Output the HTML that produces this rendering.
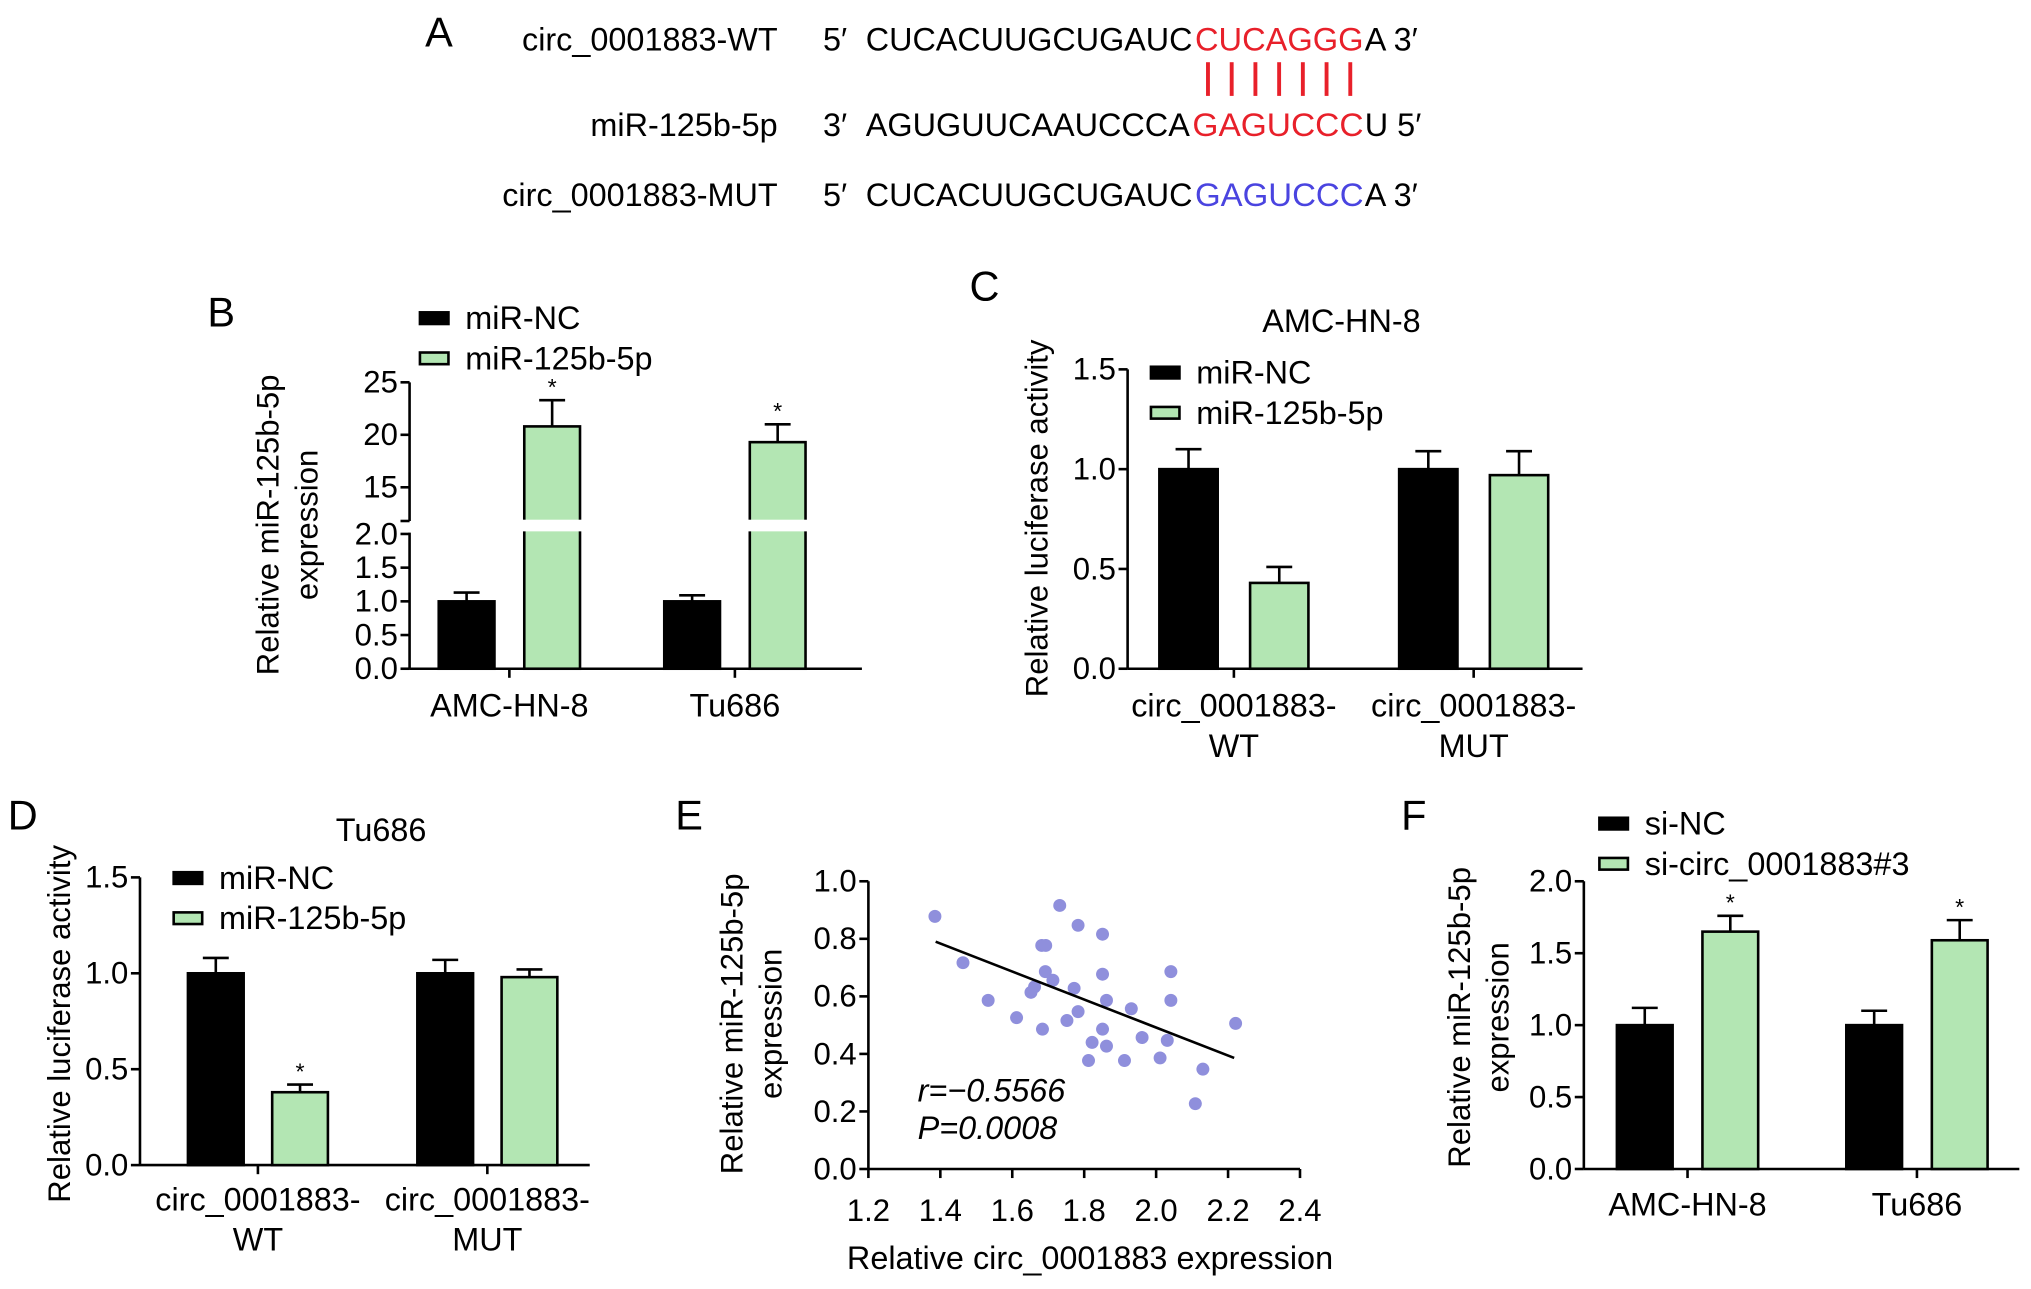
<!DOCTYPE html>
<html><head><meta charset="utf-8"><style>
html,body{margin:0;padding:0;background:#fff;}
svg{display:block;font-family:"Liberation Sans",Arial,sans-serif;}
</style></head><body>
<svg id="fig" width="2031" height="1289" viewBox="0 0 1567 994.6" preserveAspectRatio="none" xmlns="http://www.w3.org/2000/svg">
<g font-size="25">
<text x="328" y="36" font-size="32">A</text>
<text x="600" y="39" text-anchor="end">circ_0001883-WT</text>
<text x="600" y="105" text-anchor="end">miR-125b-5p</text>
<text x="600" y="159" text-anchor="end">circ_0001883-MUT</text>
<text y="39"><tspan x="635">5′</tspan><tspan x="668" textLength="252" lengthAdjust="spacingAndGlyphs">CUCACUUGCUGAUC</tspan><tspan x="922" fill="#e8202a" textLength="130" lengthAdjust="spacingAndGlyphs">CUCAGGG</tspan><tspan x="1053">A 3′</tspan></text>
<text y="105"><tspan x="635">3′</tspan><tspan x="668" textLength="250" lengthAdjust="spacingAndGlyphs">AGUGUUCAAUCCCA</tspan><tspan x="920" fill="#e8202a" textLength="132" lengthAdjust="spacingAndGlyphs">GAGUCCC</tspan><tspan x="1053">U 5′</tspan></text>
<text y="159"><tspan x="635">5′</tspan><tspan x="668" textLength="252" lengthAdjust="spacingAndGlyphs">CUCACUUGCUGAUC</tspan><tspan x="922" fill="#4a44e0" textLength="130" lengthAdjust="spacingAndGlyphs">GAGUCCC</tspan><tspan x="1053">A 3′</tspan></text>
<g id="pairs" stroke="#e8202a" stroke-width="3"></g>
</g>
<g id="plots"></g>
</svg>
<script>
// ---- Panel B data ----
const bCategories = ["AMC-HN-8", "Tu686"];
const bNC = [1.0, 1.0];
const bNCErr = [0.13, 0.09];
const bMiR = [20.8, 19.3];
const bMiRErr = [2.5, 1.7];
const bStars = [false, false, true, true];
// ---- Panel C data ----
const cCategories = ["circ_0001883-|WT", "circ_0001883-|MUT"];
const cNC = [1.0, 1.0];
const cNCErr = [0.1, 0.09];
const cMiR = [0.43, 0.97];
const cMiRErr = [0.08, 0.12];
// ---- Panel D data ----
const dCategories = ["circ_0001883-|WT", "circ_0001883-|MUT"];
const dNC = [1.0, 1.0];
const dNCErr = [0.08, 0.07];
const dMiR = [0.38, 0.98];
const dMiRErr = [0.04, 0.04];
// ---- Panel F data ----
const fCategories = ["AMC-HN-8", "Tu686"];
const fNC = [1.0, 1.0];
const fNCErr = [0.12, 0.1];
const fSi = [1.65, 1.59];
const fSiErr = [0.11, 0.14];
// ---- Panel E data ----
const eX = [1.385,1.463,1.533,1.612,1.652,1.662,1.682,1.693,1.684,1.692,1.713,1.732,1.752,1.772,1.783,1.783,1.812,1.822,1.851,1.851,1.851,1.862,1.862,1.912,1.931,1.961,2.011,2.031,2.041,2.041,2.109,2.130,2.221];
const eY = [0.878,0.717,0.586,0.526,0.614,0.633,0.777,0.777,0.486,0.686,0.656,0.916,0.516,0.628,0.847,0.547,0.377,0.440,0.816,0.677,0.486,0.586,0.427,0.377,0.557,0.457,0.386,0.447,0.686,0.586,0.227,0.347,0.506];
const eLineX = [1.387, 2.217];
const eLineY = [0.790, 0.386];
const eXTicks = ["1.2","1.4","1.6","1.8","2.0","2.2","2.4"];
const eYTicks = ["0.0","0.2","0.4","0.6","0.8","1.0"];

const NS = "http://www.w3.org/2000/svg";
const root = document.getElementById("plots");
const GREEN = "#b3e6b3";
const FS = 25, TFS = 24;
function mk(tag, attrs, parent, txt) {
  const e = document.createElementNS(NS, tag);
  for (const k in attrs) e.setAttribute(k, attrs[k]);
  if (txt !== undefined) e.textContent = txt;
  (parent || root).appendChild(e);
  return e;
}
const pg = document.getElementById("pairs");
for (let i = 0; i < 7; i++) {
  const l = mk("line", {x1: 932 + i * 18.3, x2: 932 + i * 18.3, y1: 48, y2: 74}, pg);
  
  
}

function label(x, y, t, size, anchor, parent, name, extra) {
  const e = mk("text", Object.assign({x: x, y: y, "font-size": size, "text-anchor": anchor || "start"}, extra || {}), parent, t);
  
  
  return e;
}
function line(x1, y1, x2, y2, parent, w, name) {
  const e = mk("line", {x1: x1, y1: y1, x2: x2, y2: y2, stroke: "#000", "stroke-width": w || 2}, parent);
  
  
  return e;
}
function ytitle(x, cy, lines, parent) {
  lines.forEach((t, i) => {
    label(0, 0, t, TFS, "middle", parent, "y-axis-title", {transform: "translate(" + (x + i * 30) + "," + cy + ") rotate(-90)"});
  });
}
function legend(x, y, names, parent) {
  names.forEach((n, i) => {
    const r = mk("rect", {x: x, y: y + i * 31, width: 22, height: 9, fill: i ? GREEN : "#000", stroke: "#000", "stroke-width": 2}, parent);
    
    
    label(x + 35, y + 13 + i * 31, n, FS, "start", parent, "legend-entry");
  });
}
function bar(x, w, yTop, yBase, fill, parent, name) {
  const r = mk("rect", {x: x, y: yTop, width: w, height: yBase - yTop, fill: fill, stroke: "#000", "stroke-width": 2}, parent);
  
  
}
function err(cx, yTop, yErr, parent) {
  line(cx, yTop, cx, yErr, parent, 2, "error-bar");
  line(cx - 10, yErr, cx + 10, yErr, parent, 2, "error-cap");
}
function star(cx, y, parent) { label(cx, y, "*", 18, "middle", parent, "significance-star"); }

function barPanel(o) {
  const g = mk("g", {});
  
  
  label(o.letterX, o.letterY, o.letter, 32, "start", g, "panel-label");
  if (o.title) label(o.titleX, o.titleY, o.title, FS, "middle", g, "chart-title");
  const y = v => o.y0 - v * o.ppu;
  line(o.ax, o.y0 - o.yMax * o.ppu, o.ax, o.y0, g, 2, "y-axis");
  line(o.ax, o.y0, o.axEnd, o.y0, g, 2, "x-axis");
  o.yTicks.forEach(t => {
    const v = parseFloat(t);
    line(o.ax - 7, y(v), o.ax, y(v), g, 2, "y-tick");
    label(o.ax - 9, y(v) + 8, t, TFS, "end", g, "y-tick-label");
  });
  legend(o.legX, o.legY, o.legNames, g);
  ytitle(o.titleAxisX, o.titleAxisY, o.yTitle, g);
  o.cats.forEach((c, i) => {
    const gx = o.groupX[i];
    const bx1 = gx - o.gap / 2 - o.bw, bx2 = gx + o.gap / 2;
    bar(bx1, o.bw, y(o.s1[i]), o.y0, "#000", g, "bar-control");
    err(bx1 + o.bw / 2, y(o.s1[i]), y(o.s1[i] + o.e1[i]), g);
    bar(bx2, o.bw, y(o.s2[i]), o.y0, GREEN, g, "bar-treatment");
    err(bx2 + o.bw / 2, y(o.s2[i]), y(o.s2[i] + o.e2[i]), g);
    if (o.stars[i]) star(bx2 + o.bw / 2, y(o.s2[i] + o.e2[i]) - 4, g);
    line(gx, o.y0, gx, o.y0 + 7, g, 2, "x-tick");
    c.split("|").forEach((t, k) => label(gx, o.labY + k * 31, t, FS, "middle", g, "x-tick-label"));
  });
}

barPanel({name: "panel-c", letter: "C", letterX: 748, letterY: 232, title: "AMC-HN-8", titleX: 1035, titleY: 256,
  ax: 870, axEnd: 1221, y0: 516, ppu: 154, yMax: 1.5, yTicks: ["0.0","0.5","1.0","1.5"],
  legX: 888, legY: 283, legNames: ["miR-NC", "miR-125b-5p"], titleAxisX: 808, titleAxisY: 400, yTitle: ["Relative luciferase activity"],
  cats: cCategories, groupX: [952, 1137], bw: 45, gap: 25, s1: cNC, e1: cNCErr, s2: cMiR, e2: cMiRErr, stars: [false, false], labY: 553});
barPanel({name: "panel-d", letter: "D", letterX: 6, letterY: 640, title: "Tu686", titleX: 294, titleY: 649,
  ax: 108, axEnd: 455, y0: 899, ppu: 148, yMax: 1.5, yTicks: ["0.0","0.5","1.0","1.5"],
  legX: 134, legY: 673, legNames: ["miR-NC", "miR-125b-5p"], titleAxisX: 54, titleAxisY: 790, yTitle: ["Relative luciferase activity"],
  cats: dCategories, groupX: [199, 376], bw: 43, gap: 22, s1: dNC, e1: dNCErr, s2: dMiR, e2: dMiRErr, stars: [true, false], labY: 934});
barPanel({name: "panel-f", letter: "F", letterX: 1081, letterY: 640,
  ax: 1222, axEnd: 1558, y0: 902, ppu: 111, yMax: 2.0, yTicks: ["0.0","0.5","1.0","1.5","2.0"],
  legX: 1234, legY: 631, legNames: ["si-NC", "si-circ_0001883#3"], titleAxisX: 1134, titleAxisY: 785, yTitle: ["Relative miR-125b-5p", "expression"],
  cats: fCategories, groupX: [1302, 1479], bw: 43, gap: 23, s1: fNC, e1: fNCErr, s2: fSi, e2: fSiErr, stars: [true, true], labY: 938});

// Panel B (broken axis)
(function () {
  const g = mk("g", {});
  
  
  label(160, 252, "B", 32, "start", g, "panel-label");
  const ax = 316, y0 = 516;
  const y = v => v <= 2.5 ? y0 - v * 52 : 376 - (v - 15) * 8.1;
  line(ax, 295, ax, 402, g, 2, "y-axis-upper");
  line(ax, 411, ax, y0, g, 2, "y-axis-lower");
  line(ax - 7, 402, ax, 402, g, 2, "y-break-tick");
  line(ax, y0, 665, y0, g, 2, "x-axis");
  ["0.0","0.5","1.0","1.5","2.0","15","20","25"].forEach(t => {
    const v = parseFloat(t);
    line(ax - 7, y(v), ax, y(v), g, 2, "y-tick");
    label(ax - 9, y(v) + 8, t, TFS, "end", g, "y-tick-label");
  });
  legend(324, 241, ["miR-NC", "miR-125b-5p"], g);
  ytitle(215, 405, ["Relative miR-125b-5p", "expression"], g);
  const groupX = [393, 567], bw = 43, gap = 23;
  bCategories.forEach((c, i) => {
    const gx = groupX[i];
    const bx1 = gx - gap / 2 - bw, bx2 = gx + gap / 2;
    bar(bx1, bw, y(bNC[i]), y0, "#000", g, "bar-control");
    err(bx1 + bw / 2, y(bNC[i]), y(bNC[i] + bNCErr[i]), g);
    bar(bx2, bw, y(bMiR[i]), y0, GREEN, g, "bar-treatment");
    err(bx2 + bw / 2, y(bMiR[i]), y(bMiR[i] + bMiRErr[i]), g);
    if (bStars[2 + i]) star(bx2 + bw / 2, y(bMiR[i] + bMiRErr[i]) - 4, g);
    const gp = mk("rect", {x: bx2 - 2, y: 401, width: bw + 4, height: 9, fill: "#fff"}, g);
    
    
    line(gx, y0, gx, y0 + 7, g, 2, "x-tick");
    label(gx, 553, c, FS, "middle", g, "x-tick-label");
  });
})();

// Panel E scatter
(function () {
  const g = mk("g", {});
  
  
  label(521, 640, "E", 32, "start", g, "panel-label");
  const x0 = 670, x1 = 1003, y0 = 902, y1 = 680;
  const sx = v => x0 + (v - 1.2) / 1.2 * (x1 - x0);
  const sy = v => y0 - v * (y0 - y1);
  line(x0, y1, x0, y0, g, 2, "y-axis");
  line(x0, y0, x1, y0, g, 2, "x-axis");
  eYTicks.forEach(t => { const v = parseFloat(t); line(x0 - 7, sy(v), x0, sy(v), g, 2, "y-tick"); label(x0 - 9, sy(v) + 8, t, TFS, "end", g, "y-tick-label"); });
  eXTicks.forEach(t => { const v = parseFloat(t); line(sx(v), y0, sx(v), y0 + 7, g, 2, "x-tick"); label(sx(v), 942, t, TFS, "middle", g, "x-tick-label"); });
  label(841, 979, "Relative circ_0001883 expression", FS, "middle", g, "x-axis-title");
  ytitle(573, 790, ["Relative miR-125b-5p", "expression"], g);
  eX.forEach((v, i) => {
    const c = mk("circle", {cx: sx(v), cy: sy(eY[i]), r: 5, fill: "#8f8fdc"}, g);
    
    
  });
  line(sx(eLineX[0]), sy(eLineY[0]), sx(eLineX[1]), sy(eLineY[1]), g, 2, "regression-line");
  label(708, 850, "r=−0.5566", FS, "start", g, "correlation-r", {"font-style": "italic"});
  label(708, 879, "P=0.0008", FS, "start", g, "correlation-p", {"font-style": "italic"});
})();
</script>
</body></html>
